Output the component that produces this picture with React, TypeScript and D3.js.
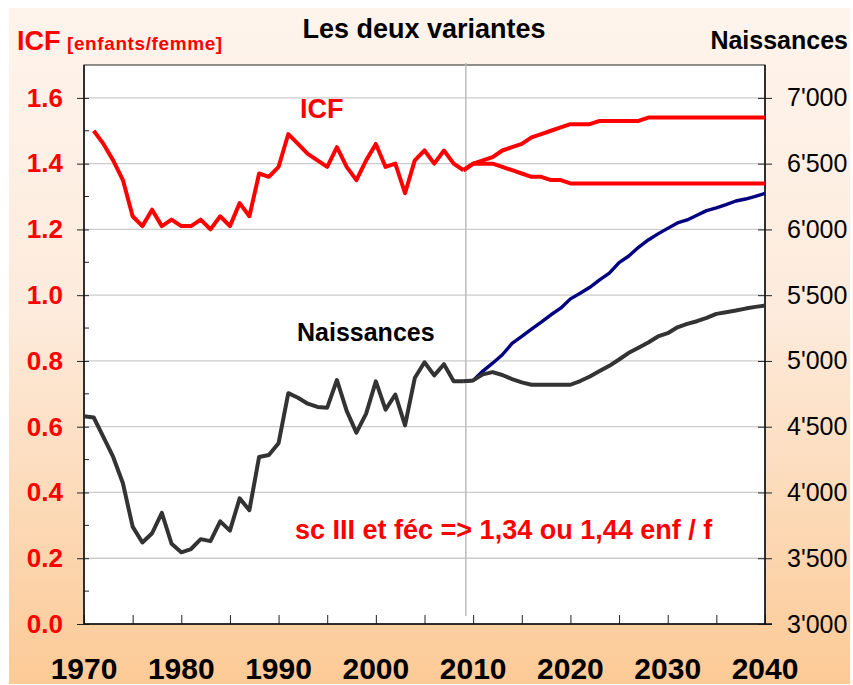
import React, { useEffect, useRef } from "react";
import * as d3 from "d3";

// ICF observed 1971-2009
const icfYears = d3.range(1971, 2010);
const icfHist = [
  1.5, 1.46, 1.41, 1.35, 1.24, 1.21, 1.26, 1.21, 1.23, 1.21,
  1.21, 1.23, 1.2, 1.24, 1.21, 1.28, 1.24, 1.37, 1.36, 1.39,
  1.49, 1.46, 1.43, 1.41, 1.39, 1.45, 1.39, 1.35, 1.41, 1.46,
  1.39, 1.4, 1.31, 1.41, 1.44, 1.4, 1.44, 1.4, 1.38,
];

// births observed 1970-2009
const birthYears = d3.range(1970, 2010);
const birthsHist = [
  4580, 4570, 4420, 4270, 4070, 3740, 3620, 3690, 3845, 3610,
  3545, 3570, 3645, 3630, 3780, 3710, 3955, 3865, 4270, 4285,
  4375, 4755, 4720, 4675, 4650, 4645, 4855, 4620, 4455, 4600,
  4845, 4630, 4745, 4510, 4870, 4990, 4890, 4975, 4845, 4845,
];

// projections 2010-2040
const projYears = d3.range(2010, 2041);
const icfHigh = [
  1.4, 1.41, 1.42, 1.44, 1.45, 1.46, 1.48, 1.49, 1.5, 1.51,
  1.52, 1.52, 1.52, 1.53, 1.53, 1.53, 1.53, 1.53, 1.54, 1.54,
  1.54, 1.54, 1.54, 1.54, 1.54, 1.54, 1.54, 1.54, 1.54, 1.54, 1.54,
];
const icfLow = [
  1.4, 1.4, 1.4, 1.39, 1.38, 1.37, 1.36, 1.36, 1.35, 1.35,
  1.34, 1.34, 1.34, 1.34, 1.34, 1.34, 1.34, 1.34, 1.34, 1.34,
  1.34, 1.34, 1.34, 1.34, 1.34, 1.34, 1.34, 1.34, 1.34, 1.34, 1.34,
];
const birthsHigh = [
  4852, 4923, 4983, 5047, 5133, 5186, 5242, 5295, 5351, 5401,
  5472, 5515, 5560, 5616, 5667, 5748, 5798, 5864, 5920, 5966,
  6008, 6049, 6072, 6107, 6143, 6163, 6188, 6216, 6231, 6251, 6274,
];
const birthsLow = [
  4852, 4898, 4915, 4893, 4862, 4837, 4819, 4819, 4819, 4819,
  4819, 4847, 4882, 4923, 4963, 5011, 5062, 5100, 5140, 5186,
  5211, 5256, 5282, 5302, 5328, 5358, 5370, 5383, 5398, 5411, 5421,
];

const leftTicks = [0, 0.2, 0.4, 0.6, 0.8, 1.0, 1.2, 1.4, 1.6];
const rightTicks = [3000, 3500, 4000, 4500, 5000, 5500, 6000, 6500, 7000];
const yearTicks = [1970, 1980, 1990, 2000, 2010, 2020, 2030, 2040];
const splitYear = 2009.25;

const Chart = () => {
  const svgRef = useRef<SVGSVGElement>(null);

  useEffect(() => {
    const svg = d3.select(svgRef.current);
    svg.selectAll("*").remove();

    const W = 853;
    const H = 685;
    const plot = { left: 84, right: 765, top: 65, bottom: 624 };
    const font = "'Liberation Sans', Arial, sans-serif";
    const red = "#ff0000";

    // background gradient
    const grad = svg
      .append("defs")
      .append("linearGradient")
      .attr("id", "bg")
      .attr("x1", 0).attr("y1", 0).attr("x2", 0).attr("y2", 1);
    grad.append("stop").attr("offset", "0%").attr("stop-color", "#fef4ec");
    grad.append("stop").attr("offset", "45%").attr("stop-color", "#fdebdc");
    grad.append("stop").attr("offset", "100%").attr("stop-color", "#fcca96");

    svg.attr("width", W).attr("height", H);
    svg.append("rect").attr("width", W).attr("height", H).attr("fill", "#fff");
    svg
      .append("rect")
      .attr("x", 9).attr("y", 8)
      .attr("width", 841).attr("height", 676)
      .attr("fill", "url(#bg)");

    const x = d3.scaleLinear().domain([1970, 2040]).range([plot.left, plot.right]);
    const yL = d3.scaleLinear().domain([0, 1.7]).range([plot.bottom, plot.top]);
    const yR = d3.scaleLinear().domain([3000, 7250]).range([plot.bottom, plot.top]);

    svg
      .append("rect")
      .attr("x", plot.left).attr("y", plot.top)
      .attr("width", plot.right - plot.left)
      .attr("height", plot.bottom - plot.top)
      .attr("fill", "#fff")
      .attr("stroke", "#222")
      .attr("stroke-width", 1);

    // gridlines
    svg
      .append("g")
      .selectAll("line")
      .data(leftTicks.slice(1))
      .join("line")
      .attr("x1", plot.left).attr("x2", plot.right)
      .attr("y1", (d) => yL(d)).attr("y2", (d) => yL(d))
      .attr("stroke", "#cccccc")
      .attr("stroke-width", 1.3);

    // split line observed / projected
    svg
      .append("line")
      .attr("x1", x(splitYear)).attr("x2", x(splitYear))
      .attr("y1", plot.top - 2).attr("y2", plot.bottom - 8)
      .attr("stroke", "#bbbbbb")
      .attr("stroke-width", 1.5);

    // axes
    const leftAxis = svg
      .append("g")
      .attr("transform", `translate(${plot.left},0)`)
      .call(d3.axisLeft(yL).tickValues(leftTicks).tickSize(7).tickFormat(d3.format(".1f")));
    leftAxis.select(".domain").remove();
    leftAxis.selectAll(".tick line").attr("x2", -7).attr("x1", 5).attr("stroke", "#222");
    leftAxis
      .selectAll(".tick text")
      .attr("x", -21)
      .attr("fill", red)
      .style("font-family", font)
      .style("font-weight", "bold")
      .style("font-size", "26px");
    svg
      .append("g")
      .selectAll("line")
      .data(d3.range(1, 17, 2).map((i) => i / 10))
      .join("line")
      .attr("x1", plot.left).attr("x2", plot.left + 5)
      .attr("y1", (d) => yL(d)).attr("y2", (d) => yL(d))
      .attr("stroke", "#222");

    const rightAxis = svg
      .append("g")
      .attr("transform", `translate(${plot.right},0)`)
      .call(
        d3.axisRight(yR)
          .tickValues(rightTicks)
          .tickSize(7)
          .tickFormat((d) => d3.format(",")(d as number).replace(",", "'"))
      );
    rightAxis.select(".domain").remove();
    rightAxis.selectAll(".tick line").attr("x1", -7).attr("stroke", "#222");
    rightAxis
      .selectAll(".tick text")
      .attr("x", 22)
      .attr("fill", "#000")
      .style("font-family", font)
      .style("font-size", "25px");

    const bottomAxis = svg
      .append("g")
      .attr("transform", `translate(0,${plot.bottom})`)
      .call(d3.axisBottom(x).tickValues(d3.range(1970, 2041, 5)).tickSize(0).tickFormat(() => ""));
    bottomAxis.select(".domain").remove();
    bottomAxis.selectAll(".tick line").attr("y2", -9).attr("stroke", "#222");

    svg
      .append("g")
      .selectAll("text")
      .data(yearTicks)
      .join("text")
      .attr("x", (d) => x(d))
      .attr("y", 679)
      .attr("text-anchor", "middle")
      .style("font-family", font)
      .style("font-weight", "bold")
      .style("font-size", "30px")
      .text((d) => d);

    // axis lines
    svg.append("line")
      .attr("x1", plot.left).attr("x2", plot.left)
      .attr("y1", plot.top).attr("y2", plot.bottom)
      .attr("stroke", "#111").attr("stroke-width", 1.5);
    svg.append("line")
      .attr("x1", plot.right).attr("x2", plot.right)
      .attr("y1", plot.top).attr("y2", plot.bottom)
      .attr("stroke", "#111").attr("stroke-width", 1.5);
    svg.append("line")
      .attr("x1", plot.left).attr("x2", plot.right + 7)
      .attr("y1", plot.bottom).attr("y2", plot.bottom)
      .attr("stroke", "#111").attr("stroke-width", 1.5);

    // series
    const lineL = d3.line<[number, number]>().x((d) => x(d[0])).y((d) => yL(d[1]));
    const lineR = d3.line<[number, number]>().x((d) => x(d[0])).y((d) => yR(d[1]));
    const zip = (xs: number[], ys: number[]) => xs.map((v, i) => [v, ys[i]] as [number, number]);

    const icfLast: [number, number] = [2009, icfHist[icfHist.length - 1]];
    const birthLast: [number, number] = [2009, birthsHist[birthsHist.length - 1]];

    const series = [
      { d: lineR([birthLast, ...zip(projYears, birthsHigh)]), c: "#000080", w: 3.4 },
      { d: lineR([birthLast, ...zip(projYears, birthsLow)]), c: "#333333", w: 4 },
      { d: lineR(zip(birthYears, birthsHist)), c: "#333333", w: 4 },
      { d: lineL([icfLast, ...zip(projYears, icfHigh)]), c: red, w: 4 },
      { d: lineL([icfLast, ...zip(projYears, icfLow)]), c: red, w: 4 },
      { d: lineL(zip(icfYears, icfHist)), c: red, w: 4 },
    ];
    svg
      .append("g")
      .selectAll("path")
      .data(series)
      .join("path")
      .attr("d", (s) => s.d)
      .attr("fill", "none")
      .attr("stroke", (s) => s.c)
      .attr("stroke-width", (s) => s.w)
      .attr("stroke-linejoin", "round");

    // texts
    const addText = (t: string, tx: number, ty: number, size: number, color: string, anchor = "start", weight = "bold") =>
      svg
        .append("text")
        .attr("x", tx).attr("y", ty)
        .attr("text-anchor", anchor)
        .attr("fill", color)
        .style("font-family", font)
        .style("font-weight", weight)
        .style("font-size", `${size}px`)
        .text(t);

    addText("Les deux variantes", 424, 38, 27, "#000", "middle");
    addText("ICF", 17, 50, 27, red);
    addText("[enfants/femme]", 67, 50, 19, red).style("letter-spacing", "0.6px");
    addText("Naissances", 848, 49, 25, "#000", "end");
    addText("ICF", 300, 118, 27, red);
    addText("Naissances", 297, 341, 25, "#000");
    addText("sc III et féc => 1,34 ou 1,44 enf / f", 295, 539, 27, red);
  }, []);

  return <svg ref={svgRef} style={{ position: "absolute", left: 0, top: 0 }}></svg>;
};

export default function App() {
  return <Chart />;
}
